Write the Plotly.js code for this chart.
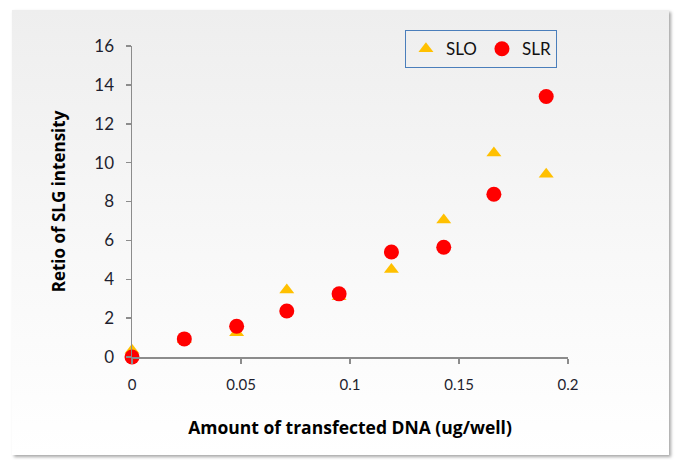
<!DOCTYPE html>
<html>
<head>
<meta charset="utf-8">
<script src="https://cdn.plot.ly/plotly-3.0.1.min.js"></script>
<style>
  html, body { margin: 0; padding: 0; background: #ffffff; }
  #wrap { position: relative; width: 679px; height: 460px; overflow: hidden; }
  #panel {
    position: absolute; left: 12px; top: 10px; width: 657px; height: 445px;
    background: linear-gradient(to bottom, #eeeeee 0%, #f8f8f8 55%, #ffffff 100%);
    box-shadow: 2px 2px 3px rgba(0,0,0,0.35);
  }
  #chart { position: absolute; left: 0; top: 0; width: 679px; height: 460px; }
</style>
</head>
<body>
<div id="wrap">
  <div id="panel"></div>
  <div id="chart"></div>
</div>
<script>
const dnaAmount = [0, 0.024, 0.048, 0.071, 0.095, 0.119, 0.143, 0.166, 0.19];
const sloValues = [0.35, 0.9, 1.25, 3.45, 3.1, 4.5, 7.05, 10.5, 9.4];
const slrValues = [0, 0.93, 1.58, 2.37, 3.25, 5.4, 5.65, 8.37, 13.4];
const seriesNames = ['SLO', 'SLR'];
const xTicks = [0, 0.05, 0.1, 0.15, 0.2];
const xTickLabels = ['0', '0.05', '0.1', '0.15', '0.2'];
const yTicks = [0, 2, 4, 6, 8, 10, 12, 14, 16];

const font = 'Lato, "Open Sans", "DejaVu Sans", sans-serif';
const titleFont = '"Open Sans", Lato, "DejaVu Sans", sans-serif';

const traces = [
  {
    x: dnaAmount, y: sloValues, name: seriesNames[0], type: 'scatter', mode: 'markers',
    marker: { symbol: 'triangle-up', size: 13, color: '#ffc000' }, cliponaxis: false
  },
  {
    x: dnaAmount, y: slrValues, name: seriesNames[1], type: 'scatter', mode: 'markers',
    marker: { symbol: 'circle', size: 15, color: '#ff0000' }, cliponaxis: false
  }
];

const layout = {
  width: 679, height: 460,
  paper_bgcolor: 'rgba(0,0,0,0)', plot_bgcolor: 'rgba(0,0,0,0)',
  margin: { l: 132, r: 111, t: 46, b: 103 },
  font: { family: font, size: 15, color: '#1f1f2f' },
  showlegend: true,
  legend: {
    orientation: 'h', x: 0.626, y: 1.051, xanchor: 'left', yanchor: 'top',
    bgcolor: 'rgba(0,0,0,0)', bordercolor: '#4a7ebb', borderwidth: 1,
    font: { family: font, size: 17, color: '#111' },
    itemwidth: 30
  },
  xaxis: {
    range: [0, 0.2], tickvals: xTicks, ticktext: xTickLabels,
    showgrid: false, zeroline: false, showline: true, linecolor: '#8c8c8c', linewidth: 1.5,
    ticks: 'outside', ticklen: 5, tickcolor: '#8c8c8c', tickwidth: 1.5,
    ticklabelstandoff: 8,
    tickfont: { family: font, size: 15, color: '#1f1f2f' },
    title: { text: 'Amount of transfected DNA (ug/well)', font: { family: titleFont, size: 17.5, color: '#000', weight: 'bold' }, standoff: 30 }
  },
  yaxis: {
    range: [0, 16], tickvals: yTicks,
    showgrid: false, zeroline: false, showline: true, linecolor: '#8c8c8c', linewidth: 1.5,
    ticks: 'outside', ticklen: 5, tickcolor: '#8c8c8c', tickwidth: 1.5,
    ticklabelstandoff: 8,
    tickfont: { family: font, size: 17, color: '#1f1f2f' },
    title: { text: 'Retio of SLG intensity', font: { family: titleFont, size: 17, color: '#000', weight: 'bold' }, standoff: 24 }
  }
};

Plotly.newPlot('chart', traces, layout, { displayModeBar: false, staticPlot: true });
</script>
</body>
</html>
